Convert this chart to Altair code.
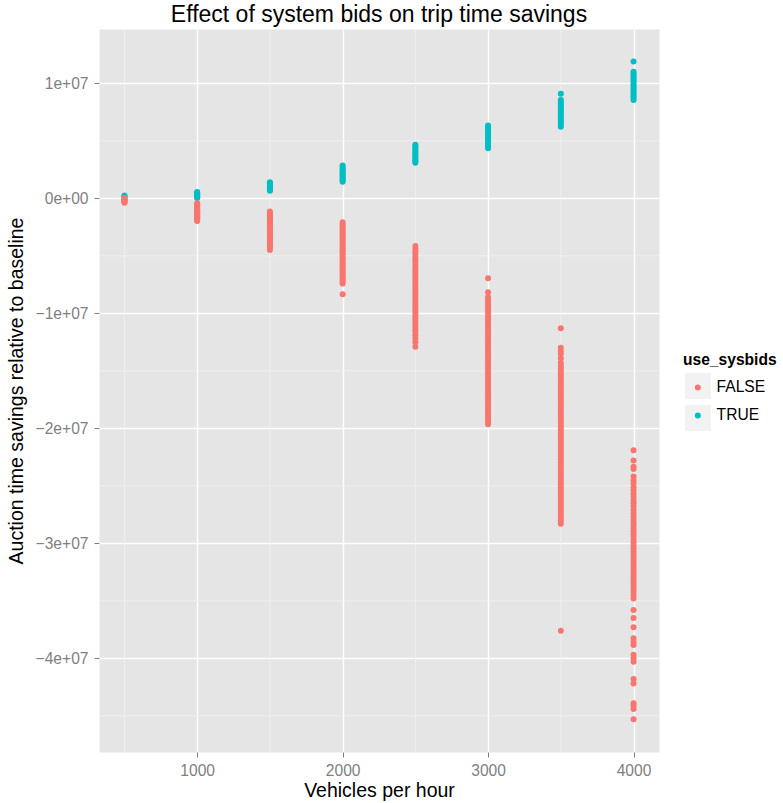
import altair as alt
import pandas as pd

# Trip time savings (vehicle-seconds) per demand level, in millions.
# FALSE = auction without system bids, TRUE = auction with system bids.
false_500 = [0.02, -0.06, -0.12, -0.18, -0.22, -0.27, -0.33, -0.38]
true_500 = [0.24, 0.18, 0.1]

false_1000 = [-0.43, -0.5, -0.61, -0.66, -0.77, -0.84, -0.9, -1.01, -1.06, -1.15,
              -1.22, -1.3, -1.37, -1.41, -1.52, -1.57, -1.66, -1.74, -1.8, -1.89, -1.97]
true_1000 = [0.55, 0.48, 0.43, 0.34, 0.29, 0.21, 0.16, 0.08, 0.03]

false_1500 = [-1.16, -1.27, -1.38, -1.52, -1.6, -1.78, -1.93, -2.08, -2.21, -2.33,
              -2.48, -2.61, -2.7, -2.86, -2.98, -3.12, -3.24, -3.41, -3.53, -3.7,
              -3.84, -4.01, -4.14, -4.32, -4.5]
true_1500 = [1.39, 1.33, 1.24, 1.17, 1.11, 1.0, 0.96, 0.87, 0.81, 0.73, 0.66]

false_2000 = [-2.09, -2.28, -2.44, -2.62, -2.79, -2.97, -3.12, -3.28, -3.47, -3.61,
              -3.77, -3.94, -4.12, -4.28, -4.46, -4.61, -4.79, -4.97, -5.12, -5.29,
              -5.46, -5.62, -5.78, -5.96, -6.11, -6.29, -6.44, -6.62, -6.79, -6.96,
              -7.1, -7.27, -7.4, -8.34]
true_2000 = [2.84, 2.71, 2.57, 2.44, 2.31, 2.18, 2.06, 1.94, 1.81, 1.69, 1.57, 1.44]

false_2500 = [-4.15, -4.38, -4.62, -4.84, -5.11, -5.32, -5.54, -5.79, -6.02, -6.26,
              -6.48, -6.71, -6.94, -7.18, -7.41, -7.66, -7.88, -8.12, -8.34, -8.58,
              -8.81, -9.06, -9.28, -9.51, -9.74, -9.98, -10.22, -10.44, -10.68, -10.91,
              -11.14, -11.38, -11.62, -11.9, -12.2, -12.52, -12.9]
true_2500 = [4.66, 4.51, 4.37, 4.21, 4.06, 3.91, 3.77, 3.63, 3.49, 3.36, 3.22, 3.1]

false_3000 = [-6.96, -8.17, -8.6, -8.84, -9.11, -9.32, -9.56, -9.78, -10.02, -10.28,
              -10.51, -10.74, -10.98, -11.22, -11.47, -11.71, -11.94, -12.18, -12.42, -12.68,
              -12.91, -13.14, -13.38, -13.62, -13.86, -14.09, -14.32, -14.58, -14.81, -15.04,
              -15.28, -15.52, -15.76, -15.99, -16.22, -16.46, -16.7, -16.92, -17.16, -17.39,
              -17.62, -17.86, -18.08, -18.32, -18.56, -18.8, -19.02, -19.26, -19.46, -19.66]
true_3000 = [6.32, 6.16, 6.01, 5.84, 5.69, 5.55, 5.39, 5.24, 5.09, 4.94, 4.8, 4.64, 4.49, 4.34]

false_3500 = [-11.3, -13.0, -13.27, -13.52, -13.9, -14.3, -14.56, -14.81, -15.04, -15.31,
              -15.52, -15.76, -16.01, -16.24, -16.5, -16.72, -16.96, -17.21, -17.44, -17.7,
              -17.93, -18.16, -18.42, -18.64, -18.9, -19.12, -19.36, -19.61, -19.84, -20.09,
              -20.32, -20.56, -20.81, -21.04, -21.28, -21.52, -21.76, -22.01, -22.24, -22.48,
              -22.72, -22.96, -23.2, -23.44, -23.69, -23.92, -24.16, -24.41, -24.64, -24.88,
              -25.12, -25.36, -25.6, -25.84, -26.08, -26.32, -26.56, -26.8, -27.04, -27.28,
              -27.52, -27.76, -28.02, -28.3, -37.6]
true_3500 = [9.1, 8.55, 8.39, 8.22, 8.06, 7.88, 7.71, 7.56, 7.39, 7.22, 7.06, 6.89,
             6.72, 6.56, 6.4, 6.23]

false_4000 = [-21.9, -22.8, -23.35, -23.55, -24.2, -24.52, -24.81, -25.12, -25.41, -25.7,
              -25.98, -26.28, -26.52, -26.8, -27.1, -27.38, -27.7, -27.96, -28.22, -28.46,
              -28.72, -28.96, -29.22, -29.46, -29.71, -29.96, -30.22, -30.46, -30.71, -30.96,
              -31.21, -31.46, -31.72, -31.96, -32.21, -32.46, -32.72, -32.96, -33.21, -33.46,
              -33.72, -33.96, -34.21, -34.5, -34.8, -35.8, -36.5, -37.3, -38.26, -38.56,
              -38.84, -39.7, -40.0, -40.3, -41.8, -42.2, -43.9, -44.1, -44.4, -45.3]
true_4000 = [11.9, 11.0, 10.84, 10.69, 10.52, 10.36, 10.19, 10.02, 9.86, 9.7, 9.52,
             9.36, 9.2, 9.03, 8.87, 8.71, 8.55]

rates = [500, 1000, 1500, 2000, 2500, 3000, 3500, 4000]
true_series = [true_500, true_1000, true_1500, true_2000,
               true_2500, true_3000, true_3500, true_4000]
false_series = [false_500, false_1000, false_1500, false_2000,
                false_2500, false_3000, false_3500, false_4000]

groups = ["FALSE", "TRUE"]
group_colors = ["#F8766D", "#00BFC4"]

x_ticks = [1000, 2000, 3000, 4000]
x_minor = [500, 1500, 2500, 3500]
y_ticks = [-4e7, -3e7, -2e7, -1e7, 0, 1e7]
y_minor = [-4.5e7, -3.5e7, -2.5e7, -1.5e7, -0.5e7, 0.5e7]

x_domain = [325, 4175]
y_domain = [-4.815e7, 1.472e7]

rows = []
# system-bid runs first so the no-system-bid runs sit on top
for label, series in (("TRUE", true_series), ("FALSE", false_series)):
    for rate, values in zip(rates, series):
        for v in values:
            rows.append({"rate": rate, "savings": v * 1e6,
                         "use_sysbids": label, "key_bg": groups.index(label)})
df = pd.DataFrame(rows)

FONT = "Liberation Sans"
x_scale = alt.Scale(domain=x_domain, nice=False, zero=False)
y_scale = alt.Scale(domain=y_domain, nice=False, zero=False)

minor_x = alt.Chart(pd.DataFrame({"v": x_minor})).mark_rule(
    color="#F2F2F2", strokeWidth=0.8
).encode(x=alt.X("v:Q", scale=x_scale))

minor_y = alt.Chart(pd.DataFrame({"v": y_minor})).mark_rule(
    color="#F2F2F2", strokeWidth=0.8
).encode(y=alt.Y("v:Q", scale=y_scale))

points = alt.Chart(df).mark_circle(size=36, opacity=1).encode(
    x=alt.X(
        "rate:Q",
        scale=x_scale,
        axis=alt.Axis(
            title="Vehicles per hour",
            values=x_ticks,
            format="d",
            grid=True,
            titleX=280,
            titleY=44,
            titleBaseline="alphabetic",
            labelPadding=6.5,
        ),
    ),
    y=alt.Y(
        "savings:Q",
        scale=y_scale,
        axis=alt.Axis(
            title="Auction time savings relative to baseline",
            values=y_ticks,
            labelExpr="datum.value == 0 ? '0e+00' : format(datum.value / 1e7, 'd') + 'e+07'",
            grid=True,
            titleX=-77,
            titleY=361.5,
            titleBaseline="alphabetic",
            labelPadding=6,
        ),
    ),
    color=alt.Color(
        "use_sysbids:N",
        scale=alt.Scale(domain=groups, range=group_colors),
        legend=alt.Legend(
            title="use_sysbids",
            orient="none",
            legendX=584,
            legendY=324,
            padding=0,
            symbolType="circle",
            symbolSize=36,
            symbolOffset=7,
            labelOffset=11,
            rowPadding=11,
            titlePadding=11,
            titleFontSize=15.6,
            titleFontWeight="bold",
            titleColor="#000000",
            labelFontSize=15.6,
            labelColor="#000000",
            zindex=1,
        ),
    ),
    # grey key boxes drawn behind the colour legend symbols
    opacity=alt.Opacity(
        "key_bg:O",
        scale=alt.Scale(domain=[0, 1], range=[1, 1]),
        legend=alt.Legend(
            title=None,
            orient="none",
            legendX=585,
            legendY=343,
            padding=0,
            symbolType="square",
            symbolSize=729,
            symbolFillColor="#F2F2F2",
            symbolStrokeColor="#FFFFFF",
            symbolStrokeWidth=1,
            symbolOpacity=1,
            labelExpr="''",
            rowPadding=0,
            zindex=0,
        ),
    ),
)

chart = (
    alt.layer(minor_x, minor_y, points)
    .properties(
        width=560,
        height=723,
        padding={"left": 99, "top": 29, "right": 124, "bottom": 51},
        autosize=alt.AutoSizeParams(type="none"),
        title=alt.TitleParams(
            "Effect of system bids on trip time savings",
            anchor="middle",
            frame="group",
            fontSize=23,
            fontWeight="normal",
            color="#000000",
            baseline="alphabetic",
            offset=6,
            dy=22,
        ),
    )
    .configure(font=FONT)
    .configure_view(fill="#E5E5E5", stroke="transparent")
    .configure_axis(
        domain=False,
        gridColor="#FFFFFF",
        gridWidth=1.5,
        tickColor="#7F7F7F",
        tickSize=5,
        tickWidth=1,
        labelColor="#7F7F7F",
        labelFontSize=15.6,
        titleFontSize=19.5,
        titleFontWeight="normal",
        titleColor="#000000",
    )
)

chart.save("out.html", embed_options={"renderer": "svg", "actions": False})
